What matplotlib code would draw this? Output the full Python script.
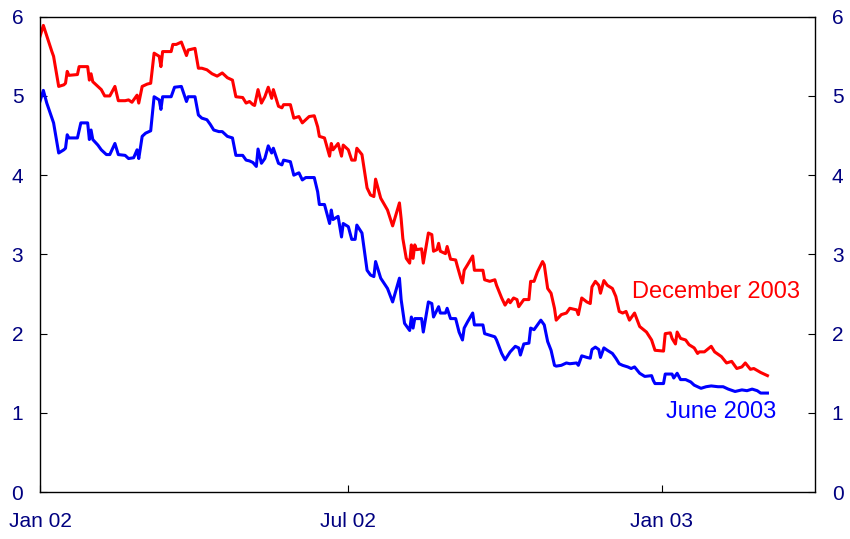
import numpy as np
import pandas as pd
import matplotlib
matplotlib.use("Agg")
import matplotlib.pyplot as plt

plt.rcParams['font.family'] = ['Liberation Sans', 'DejaVu Sans']

# days since 1 Jan 2002
dec_days = [0, 2, 5, 7, 8, 11, 14, 15, 16, 17, 22, 23, 28, 29, 30, 31, 34, 36, 38, 41,
            44, 46, 50, 52, 54, 57, 58, 60, 63, 65, 67, 70, 71, 72, 77, 78, 80, 83, 86, 87,
            91, 93, 95, 98, 101, 104, 107, 110, 113, 115, 119, 121, 123, 125, 126, 128, 130, 132, 134, 136,
            137, 140, 142, 143, 147, 149, 152, 154, 156, 158, 161, 163, 164, 167, 170, 171, 172, 175, 177, 178,
            181, 183, 185, 186, 189, 192, 194, 196, 197, 200, 204, 207, 211, 212, 213, 215, 217, 218, 219, 220,
            221, 224, 225, 228, 230, 231, 233, 234, 235, 238, 239, 241, 244, 245, 247, 248, 249, 251, 254, 255,
            260, 261, 264, 267, 268, 271, 273, 275, 276, 278, 280, 281, 284, 287, 288, 290, 292, 295, 296, 298,
            300, 302, 303, 306, 309, 311, 315, 316, 318, 321, 323, 324, 326, 328, 329, 331, 333, 336, 338, 340,
            342, 344, 346, 349, 352, 356, 359, 361, 366, 367, 370, 371, 373, 374, 376, 379, 381, 384, 386, 387,
            390, 394, 396, 400, 403, 406, 409, 412, 414, 417, 419, 423, 427]
dec_vals = [5.75, 5.89, 5.69, 5.56, 5.50, 5.12, 5.14, 5.16, 5.31, 5.26, 5.27, 5.37, 5.37, 5.20, 5.28, 5.18, 5.12, 5.08, 5.00, 5.00,
            5.12, 4.94, 4.94, 4.95, 4.92, 5.01, 4.91, 5.12, 5.15, 5.16, 5.54, 5.50, 5.37, 5.56, 5.56, 5.65, 5.65, 5.68, 5.51, 5.58,
            5.60, 5.35, 5.35, 5.33, 5.28, 5.25, 5.29, 5.23, 5.20, 4.99, 4.98, 4.91, 4.93, 4.89, 4.88, 5.08, 4.91, 4.99, 5.11, 4.97,
            5.08, 4.87, 4.85, 4.89, 4.89, 4.72, 4.74, 4.66, 4.70, 4.74, 4.75, 4.61, 4.49, 4.47, 4.24, 4.40, 4.32, 4.40, 4.24, 4.38,
            4.32, 4.19, 4.19, 4.34, 4.26, 3.84, 3.75, 3.73, 3.95, 3.71, 3.56, 3.36, 3.65, 3.45, 3.20, 2.95, 2.89, 3.12, 2.95, 3.12,
            3.06, 3.07, 2.89, 3.27, 3.25, 3.04, 3.06, 3.14, 3.04, 3.01, 3.10, 2.94, 2.93, 2.85, 2.70, 2.64, 2.80, 2.87, 2.98, 2.80,
            2.80, 2.68, 2.66, 2.68, 2.61, 2.45, 2.36, 2.43, 2.39, 2.45, 2.43, 2.34, 2.43, 2.43, 2.66, 2.66, 2.78, 2.91, 2.87, 2.57,
            2.51, 2.32, 2.17, 2.24, 2.26, 2.32, 2.30, 2.24, 2.45, 2.40, 2.38, 2.59, 2.66, 2.61, 2.51, 2.67, 2.61, 2.57, 2.47, 2.28,
            2.26, 2.28, 2.17, 2.26, 2.09, 2.02, 1.92, 1.79, 1.78, 2.00, 2.01, 1.94, 1.87, 2.02, 1.94, 1.92, 1.86, 1.82, 1.75, 1.77,
            1.77, 1.84, 1.77, 1.71, 1.63, 1.65, 1.56, 1.58, 1.63, 1.55, 1.56, 1.51, 1.47]

jun_days = [0, 2, 4, 7, 8, 11, 14, 15, 16, 17, 22, 24, 28, 29, 30, 31, 34, 36, 39, 41,
            44, 46, 50, 52, 55, 57, 58, 60, 62, 65, 67, 70, 71, 72, 77, 79, 83, 86, 87, 91,
            93, 95, 98, 100, 102, 105, 107, 110, 113, 115, 119, 121, 123, 125, 127, 128, 130, 132, 134, 136,
            137, 140, 142, 143, 147, 149, 152, 154, 156, 161, 163, 164, 167, 170, 171, 172, 175, 177, 178, 181,
            183, 185, 186, 189, 192, 194, 196, 197, 200, 204, 207, 211, 212, 214, 217, 218, 219, 220, 224, 225,
            228, 230, 231, 234, 235, 238, 239, 241, 244, 246, 248, 249, 251, 254, 255, 260, 261, 264, 267, 268,
            271, 273, 276, 279, 281, 282, 284, 287, 288, 290, 292, 294, 296, 298, 300, 302, 303, 306, 309, 311,
            315, 316, 318, 321, 323, 324, 326, 328, 329, 331, 333, 336, 338, 340, 342, 345, 347, 349, 352, 355,
            359, 360, 361, 366, 367, 371, 372, 374, 376, 379, 382, 384, 388, 391, 394, 398, 401, 404, 408, 412,
            415, 418, 421, 423, 427]
jun_vals = [4.93, 5.07, 4.91, 4.72, 4.66, 4.28, 4.32, 4.34, 4.51, 4.47, 4.47, 4.66, 4.66, 4.45, 4.57, 4.45, 4.38, 4.32, 4.26, 4.26,
            4.40, 4.26, 4.25, 4.21, 4.22, 4.32, 4.21, 4.49, 4.53, 4.56, 4.99, 4.95, 4.83, 4.99, 4.99, 5.11, 5.12, 4.93, 4.99, 4.99,
            4.76, 4.72, 4.70, 4.64, 4.57, 4.55, 4.55, 4.49, 4.47, 4.25, 4.25, 4.19, 4.18, 4.16, 4.11, 4.33, 4.15, 4.21, 4.37, 4.28,
            4.34, 4.15, 4.13, 4.19, 4.17, 4.00, 4.03, 3.94, 3.97, 3.97, 3.79, 3.63, 3.63, 3.39, 3.56, 3.44, 3.48, 3.22, 3.39, 3.35,
            3.19, 3.19, 3.37, 3.27, 2.80, 2.74, 2.72, 2.91, 2.70, 2.57, 2.40, 2.70, 2.43, 2.13, 2.04, 2.21, 2.07, 2.19, 2.19, 2.02,
            2.40, 2.38, 2.21, 2.34, 2.26, 2.26, 2.32, 2.19, 2.19, 2.02, 1.92, 2.07, 2.15, 2.26, 2.11, 2.11, 2.00, 1.98, 1.96, 1.92,
            1.75, 1.67, 1.77, 1.84, 1.82, 1.73, 1.87, 1.88, 2.07, 2.05, 2.11, 2.17, 2.11, 1.90, 1.79, 1.60, 1.59, 1.60, 1.63, 1.62,
            1.63, 1.60, 1.72, 1.70, 1.69, 1.80, 1.83, 1.80, 1.70, 1.82, 1.79, 1.75, 1.69, 1.62, 1.60, 1.58, 1.56, 1.58, 1.50, 1.46,
            1.47, 1.41, 1.37, 1.37, 1.49, 1.49, 1.44, 1.50, 1.42, 1.42, 1.39, 1.35, 1.31, 1.33, 1.34, 1.33, 1.33, 1.30, 1.27, 1.29,
            1.28, 1.30, 1.28, 1.25, 1.25]

tick_dates = ["2002-01-01", "2002-07-01", "2003-01-01"]
tick_labels = ["Jan 02", "Jul 02", "Jan 03"]
y_ticks = [0, 1, 2, 3, 4, 5, 6]

start = pd.Timestamp("2002-01-01")
dec_dates = start + pd.to_timedelta(dec_days, unit="D")
jun_dates = start + pd.to_timedelta(jun_days, unit="D")

navy = "#000080"

fig = plt.figure(figsize=(8.5, 5.39), dpi=100)
ax = fig.add_axes([0.047, 0.087, 0.912, 0.882])

ax.plot(dec_dates, dec_vals, color="#ff0000", lw=2.2)
ax.plot(jun_dates, jun_vals, color="#0000ff", lw=2.2)

ax.set_xlim(pd.Timestamp("2002-01-01"), pd.Timestamp("2003-04-01"))
ax.set_ylim(0, 6)
ax.set_yticks(y_ticks)
ax.set_xticks(pd.to_datetime(tick_dates))
ax.set_xticklabels(tick_labels)

ax.tick_params(axis="x", direction="in", length=5, pad=14, labelsize=15, labelcolor=navy)
ax.tick_params(axis="y", direction="in", length=5, pad=12, labelsize=15, labelcolor=navy,
               left=True, right=True, labelleft=True, labelright=True)

for s in ax.spines.values():
    s.set_linewidth(1.0)

ax.text(pd.Timestamp("2003-03-23"), 2.53, "December 2003", color="#ff0000",
        fontsize=17, ha="right", va="center")
ax.text(pd.Timestamp("2003-03-09"), 1.01, "June 2003", color="#0000ff",
        fontsize=17, ha="right", va="center")

fig.savefig("out.png", dpi=100)
